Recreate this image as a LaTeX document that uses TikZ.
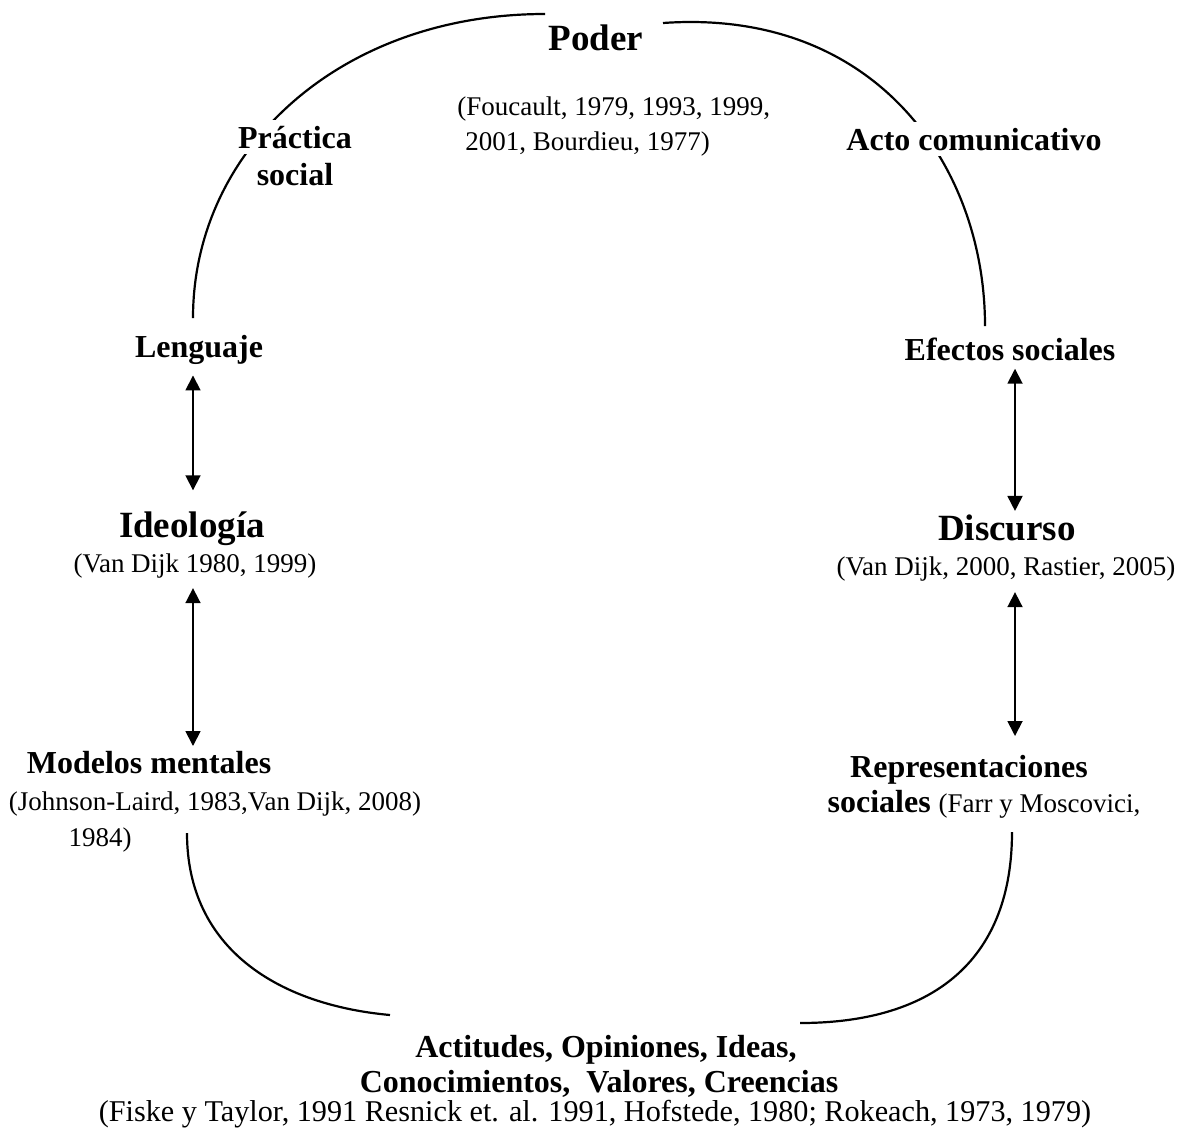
\documentclass[tikz,border=0pt]{standalone}
\usepackage{fontspec}
\setmainfont{Liberation Serif}
\usetikzlibrary{arrows.meta}
\usetikzlibrary{calc}

\begin{document}
\begin{tikzpicture}[x=0.5pt,y=-0.5pt,
    big/.style={font=\fontsize{18.5}{22}\selectfont\bfseries,anchor=base,inner sep=1pt},
    lbl/.style={font=\fontsize{16}{19}\selectfont\bfseries,anchor=base,inner sep=1pt},
    ref/.style={font=\fontsize{13.5}{16}\selectfont,anchor=base,inner sep=1pt},
    mask/.style={fill=white,inner sep=3pt},
    dbl/.style={draw,line width=0.9pt,{Triangle[length=7.5pt,width=7.5pt]}-{Triangle[length=7.5pt,width=7.5pt]}},
    cycle line/.style={draw,line width=1.1pt}]

  \useasboundingbox (0,0) rectangle (1177,1130);

  % the four arcs of the cycle
  \path [cycle line] (193,318) .. controls (193,150) and (339,14) .. (545,14);
  \path [cycle line] (663,23) .. controls (875,8) and (985,165) .. (985,326);
  \path [cycle line] (187,833) .. controls (187,950) and (280,1005) .. (390,1015);
  \path [cycle line] (1012,832) .. controls (1012,956) and (938,1023) .. (800,1023);

  % top
  \node [big] (Poder) at (596,50) {Poder};
  \node [ref,anchor=base west] (PoderRefA) at (455,115) {(Foucault, 1979, 1993, 1999,};
  \node [ref,anchor=base west] (PoderRefB) at (463,150) {2001, Bourdieu, 1977)};
  \node [lbl,mask] (Practica) at (295,148) {Práctica};
  \node [lbl] (PracticaB) at (295,185) {social};
  \node [lbl,mask] (Acto) at (974,150) {Acto comunicativo};

  % left column
  \node [lbl] (Lenguaje) at (199,357) {Lenguaje};
  \node [big] (Ideologia) at (192,537) {Ideología};
  \node [ref] (IdeologiaRef) at (195,572) {(Van Dijk 1980, 1999)};
  \node [lbl] (Modelos) at (149,773) {Modelos mentales};
  \node [ref] (ModelosRef) at (215,810) {(Johnson-Laird, 1983,Van Dijk, 2008)};
  \node [ref] (ModelosRefB) at (100,846) {1984)};

  % right column
  \node [lbl] (Efectos) at (1010,360) {Efectos sociales};
  \node [big] (Discurso) at (1007,540) {Discurso};
  \node [ref] (DiscursoRef) at (1006,575) {(Van Dijk, 2000, Rastier, 2005)};
  \node [lbl] (Repres) at (969,777) {Representaciones};
  \node [lbl] (RepresB) at (984,812) {sociales \fontsize{13.5}{16}\selectfont\mdseries(Farr y Moscovici,};

  % bottom
  \node [lbl] (Actitudes) at (606,1057) {Actitudes, Opiniones, Ideas,};
  \node [lbl] (Conoc) at (599,1092) {Conocimientos,\ \ Valores, Creencias};
  \node [ref,font=\fontsize{15.1}{18}\selectfont] (BottomRef) at (595,1121) {(Fiske y Taylor, 1991 Resnick et. al. 1991, Hofstede, 1980; Rokeach, 1973, 1979)};

  % double arrows
  \path [dbl] ([shift={(-3pt,-4.5pt)}]Lenguaje.south) -- ([shift={(0.5pt,9.3pt)}]Ideologia.north);
  \path [dbl] ([shift={(-1pt,-4pt)}]IdeologiaRef.south) -- ([shift={(22pt,1.2pt)}]Modelos.north);
  \path [dbl] ([shift={(2.5pt,-3pt)}]Efectos.south) -- ([shift={(4pt,0.5pt)}]Discurso.north);
  \path [dbl] ([shift={(4.5pt,-4.5pt)}]DiscursoRef.south) -- ([shift={(23pt,8.2pt)}]Repres.north);

\end{tikzpicture}
\end{document}
